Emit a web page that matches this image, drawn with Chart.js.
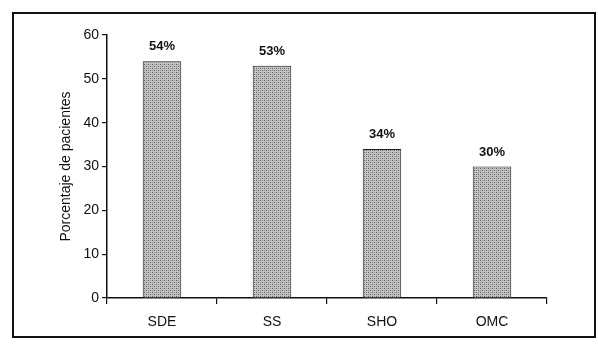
<!DOCTYPE html>
<html>
<head>
<meta charset="utf-8">
<script src="https://cdn.jsdelivr.net/npm/chart.js@4"></script>
<style>
  html, body { margin: 0; padding: 0; background: #fff; }
  #wrap { position: relative; width: 598px; height: 346px; }
  #frame {
    position: absolute; left: 12px; top: 12px; width: 580px; height: 322px;
    border: 2px solid #111; pointer-events: none;
  }
</style>
</head>
<body>
<div id="wrap">
  <canvas id="chart" width="598" height="346"></canvas>
  <div id="frame"></div>
</div>
<script>
// datos del gráfico
const categorias = ['SDE', 'SS', 'SHO', 'OMC'];
const porcentajes = [54, 53, 34, 30];
const etiquetas = ['54%', '53%', '34%', '30%'];
const ticksY = [0, 10, 20, 30, 40, 50, 60];

// trama punteada gris, como la del original escaneado
function crearTrama() {
  const c = document.createElement('canvas');
  c.width = 4; c.height = 4;
  const g = c.getContext('2d');
  g.fillStyle = '#c4c4c4';
  g.fillRect(0, 0, 4, 4);
  g.fillStyle = '#5a5a5a';
  g.fillRect(0, 0, 1, 1);
  g.fillRect(2, 2, 1, 1);
  g.fillStyle = '#8a8a8a';
  g.fillRect(2, 0, 1, 1);
  g.fillRect(0, 2, 1, 1);
  return g.createPattern(c, 'repeat');
}

// etiquetas en negrita encima de cada barra
const etiquetasBarras = {
  id: 'etiquetasBarras',
  afterDatasetsDraw(chart) {
    const ctx = chart.ctx;
    const meta = chart.getDatasetMeta(0);
    ctx.save();
    ctx.font = 'bold 13px "Liberation Sans", Arial, sans-serif';
    ctx.fillStyle = '#111';
    ctx.textAlign = 'center';
    ctx.textBaseline = 'bottom';
    meta.data.forEach((bar, i) => {
      ctx.fillText(etiquetas[i], bar.x, bar.y - 8);
    });
    ctx.restore();
  }
};

const fuente = { family: '"Liberation Sans", Arial, sans-serif', size: 14 };

new Chart(document.getElementById('chart').getContext('2d'), {
  type: 'bar',
  data: {
    labels: categorias,
    datasets: [{
      data: porcentajes,
      backgroundColor: crearTrama(),
      borderColor: '#222',
      borderWidth: 1,
      barPercentage: 0.35,
      categoryPercentage: 1
    }]
  },
  options: {
    responsive: false,
    animation: false,
    events: [],
    layout: { padding: { left: 58, right: 51, top: 35, bottom: 0 } },
    plugins: { legend: { display: false }, tooltip: { enabled: false } },
    scales: {
      x: {
        grid: {
          offset: true,
          drawOnChartArea: false,
          drawTicks: true,
          tickLength: 6,
          tickColor: '#111',
          lineWidth: 1.2
        },
        border: { color: '#111', width: 1.5 },
        ticks: { color: '#111', font: fuente, padding: 10 },
        afterFit(scale) { scale.height = 48; }
      },
      y: {
        min: 0,
        max: 60,
        afterBuildTicks(scale) { scale.ticks = ticksY.map(v => ({ value: v })); },
        grid: {
          drawOnChartArea: false,
          drawTicks: true,
          tickLength: 5,
          tickColor: '#111',
          lineWidth: 1.2
        },
        border: { color: '#111', width: 1.5 },
        ticks: { color: '#111', font: fuente, padding: 3 },
        title: {
          display: true,
          text: 'Porcentaje de pacientes',
          color: '#111',
          font: fuente,
          padding: { top: 0, bottom: 6 }
        },
        afterFit(scale) { scale.width = 49; }
      }
    }
  },
  plugins: [etiquetasBarras]
});
</script>
</body>
</html>
